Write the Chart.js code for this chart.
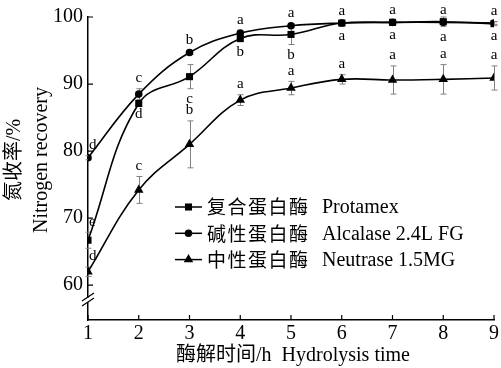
<!DOCTYPE html>
<html>
<head>
<meta charset="utf-8">
<script src="https://cdn.jsdelivr.net/npm/chart.js@4/dist/chart.umd.min.js"></script>
<style>
  html, body { margin: 0; padding: 0; background: #fff; }
  #wrap { width: 501px; height: 368px; }
</style>
</head>
<body>
<div id="wrap"><canvas id="recovery"></canvas></div>
<script>
// hydrolysis time (h)
const hours = [1, 2, 3, 4, 5, 6, 7, 8, 9];
const yTicks = [60, 70, 80, 90, 100];

// nitrogen recovery (%)
const protamex = [66.7, 87.1, 91.1, 96.8, 97.4, 99.1, 99.2, 99.3, 99.0];
const alcalase = [79.0, 88.5, 94.7, 97.6, 98.7, 99.1, 99.2, 99.2, 99.1];
const neutrase = [62.0, 74.2, 81.0, 87.6, 89.4, 90.7, 90.6, 90.7, 90.9];

// standard deviations
const protamexErr = [1.2, 0, 1.8, 0.5, 1.5, 0.4, 0.3, 0.7, 0.3];
const alcalaseErr = [0.3, 0.8, 0.3, 0.4, 0.3, 0.2, 0.2, 0.2, 0.2];
const neutraseErr = [0.7, 2.0, 3.5, 0.8, 1.0, 0.7, 2.1, 2.2, 1.8];

// significance letters
const protamexSig = ["e", "d", "c", "b", "b", "a", "a", "a", "a"];
const alcalaseSig = ["d", "c", "b", "a", "a", "a", "a", "a", "a"];
const neutraseSig = ["d", "c", "b", "a", "a", "a", "a", "a", "a"];
const protamexSide = ["up", "down", "down", "down", "down", "down", "down", "down", "down"];
const alcalaseSide = ["up", "up", "up", "up", "up", "up", "up", "up", "up"];
const neutraseSide = ["up", "up", "up", "up", "up", "up", "up", "up", "up"];

const names = [
    ["复合蛋白酶", "Protamex"],
    ["碱性蛋白酶", "Alcalase 2.4L FG"],
    ["中性蛋白酶", "Neutrase 1.5MG"]
];

const serif = "'Liberation Serif', 'Noto Sans CJK SC', serif";
const cjk = "'Noto Sans CJK SC', sans-serif";

function pts(vals) {
    return hours.map((h, i) => ({ x: h, y: vals[i] }));
}

const extras = [
    { err: protamexErr, sig: protamexSig, side: protamexSide },
    { err: alcalaseErr, sig: alcalaseSig, side: alcalaseSide },
    { err: neutraseErr, sig: neutraseSig, side: neutraseSide }
];

function marker(ctx, style, x, y, r) {
    ctx.beginPath();
    if (style === "rect") {
        const s = r * Math.SQRT1_2;
        ctx.rect(x - s, y - s, 2 * s, 2 * s);
    } else if (style === "circle") {
        ctx.arc(x, y, r, 0, Math.PI * 2);
    } else {
        for (let k = 0; k < 3; k++) {
            const a = k * Math.PI * 2 / 3;
            const px = x + Math.sin(a) * r, py = y - Math.cos(a) * r;
            if (k === 0) ctx.moveTo(px, py); else ctx.lineTo(px, py);
        }
        ctx.closePath();
    }
    ctx.fill();
}

const overlay = {
    id: "overlay",
    beforeDatasetsDraw(chart) {
        const { ctx, scales: { x, y } } = chart;
        ctx.save();
        ctx.strokeStyle = "#808080";
        ctx.lineWidth = 1;
        chart.data.datasets.forEach((ds, di) => {
            const err = extras[di].err;
            ds.data.forEach((p, i) => {
                if (!err[i]) return;
                const px = Math.round(x.getPixelForValue(p.x)) + 0.5;
                const top = y.getPixelForValue(p.y + err[i]);
                const bot = y.getPixelForValue(p.y - err[i]);
                ctx.beginPath();
                ctx.moveTo(px, top); ctx.lineTo(px, bot);
                ctx.moveTo(px - 3, top); ctx.lineTo(px + 3, top);
                ctx.moveTo(px - 3, bot); ctx.lineTo(px + 3, bot);
                ctx.stroke();
            });
        });
        ctx.restore();
    },
    afterDatasetsDraw(chart) {
        const { ctx, scales: { x, y } } = chart;
        ctx.save();
        ctx.fillStyle = "#000";
        ctx.font = "15px " + serif;
        chart.data.datasets.forEach((ds, di) => {
            const ex = extras[di];
            ds.data.forEach((p, i) => {
                let px = x.getPixelForValue(p.x);
                const up = ex.side[i] === "up";
                const val = up ? p.y + ex.err[i] : p.y - ex.err[i];
                const py = y.getPixelForValue(val);
                ctx.textAlign = i === 0 ? "left" : "center";
                if (i === 0) px += 1;
                if (up) {
                    ctx.textBaseline = "bottom";
                    ctx.fillText(ex.sig[i], px, py - 3);
                } else {
                    ctx.textBaseline = "top";
                    ctx.fillText(ex.sig[i], px, py + 3);
                }
            });
        });
        ctx.restore();
    },
    afterDraw(chart) {
        const { ctx, chartArea: a, scales: { x, y } } = chart;
        ctx.save();
        ctx.strokeStyle = "#000";
        ctx.fillStyle = "#000";
        ctx.lineWidth = 1.2;
        // inward ticks
        ctx.beginPath();
        yTicks.forEach(v => {
            const py = y.getPixelForValue(v);
            ctx.moveTo(a.left, py); ctx.lineTo(a.left + 5, py);
        });
        hours.forEach(v => {
            const px = x.getPixelForValue(v);
            ctx.moveTo(px, a.bottom); ctx.lineTo(px, a.bottom - 5);
        });
        ctx.stroke();
        // axis break
        ctx.fillStyle = "#fff";
        ctx.fillRect(a.left - 2, 298, 4, 4);
        ctx.beginPath();
        ctx.moveTo(a.left - 6, 301); ctx.lineTo(a.left + 6, 293);
        ctx.moveTo(a.left - 6, 306); ctx.lineTo(a.left + 6, 298);
        ctx.stroke();

        // legend
        ctx.fillStyle = "#000";
        const styles = ["rect", "circle", "triangle"];
        const radii = [5, 3.8, 5.5];
        names.forEach((n, i) => {
            const ly = 207 + i * 26.3;
            ctx.lineWidth = 1.5;
            ctx.beginPath();
            ctx.moveTo(175, ly); ctx.lineTo(202, ly);
            ctx.stroke();
            marker(ctx, styles[i], 188.5, ly, radii[i]);
            ctx.textBaseline = "middle";
            ctx.textAlign = "left";
            ctx.font = "19px " + cjk;
            ctx.letterSpacing = "1.5px";
            ctx.fillText(n[0], 207, ly);
            ctx.letterSpacing = "0px";
            ctx.font = "20px " + serif;
            ctx.fillText(n[1], 322, ly + 1);
        });

        // axis titles
        ctx.textAlign = "center";
        ctx.textBaseline = "middle";
        ctx.font = "20px " + serif;
        ctx.fillText("酶解时间/h  Hydrolysis time", 293, 356);
        ctx.translate(15, 160);
        ctx.rotate(-Math.PI / 2);
        ctx.fillText("氮收率/%", 0, 0);
        ctx.fillText("Nitrogen recovery", 0, 27);
        ctx.restore();
    }
};

const lineStyle = {
    borderColor: "#000",
    backgroundColor: "#000",
    borderWidth: 1.6,
    tension: 0.4,
    pointBorderWidth: 0
};

new Chart(document.getElementById("recovery"), {
    type: "line",
    data: {
        datasets: [
            { ...lineStyle, label: "Protamex", data: pts(protamex), pointStyle: "rect", pointRadius: 5 },
            { ...lineStyle, label: "Alcalase 2.4L FG", data: pts(alcalase), pointStyle: "circle", pointRadius: 3.8 },
            { ...lineStyle, label: "Neutrase 1.5MG", data: pts(neutrase), pointStyle: "triangle", pointRadius: 5.5 }
        ]
    },
    options: {
        responsive: true,
        maintainAspectRatio: false,
        animation: false,
        layout: { padding: { top: 17, right: 4, left: 0, bottom: 0 } },
        plugins: { legend: { display: false }, tooltip: { enabled: false } },
        scales: {
            x: {
                type: "linear",
                min: 1,
                max: 9,
                afterBuildTicks: s => { s.ticks = hours.map(v => ({ value: v })); },
                afterFit: s => { s.height = 48; },
                grid: { display: false, drawTicks: false },
                border: { color: "#000", width: 1.5 },
                ticks: { color: "#000", padding: 2, font: { family: serif, size: 20 } }
            },
            y: {
                min: 54.8,
                max: 100,
                afterBuildTicks: s => { s.ticks = yTicks.map(v => ({ value: v })); },
                afterFit: s => { s.width = 88; },
                grid: { display: false, drawTicks: false },
                border: { color: "#000", width: 1.5 },
                ticks: { color: "#000", padding: 5, font: { family: serif, size: 20 } }
            }
        }
    },
    plugins: [overlay]
});
</script>
</body>
</html>
